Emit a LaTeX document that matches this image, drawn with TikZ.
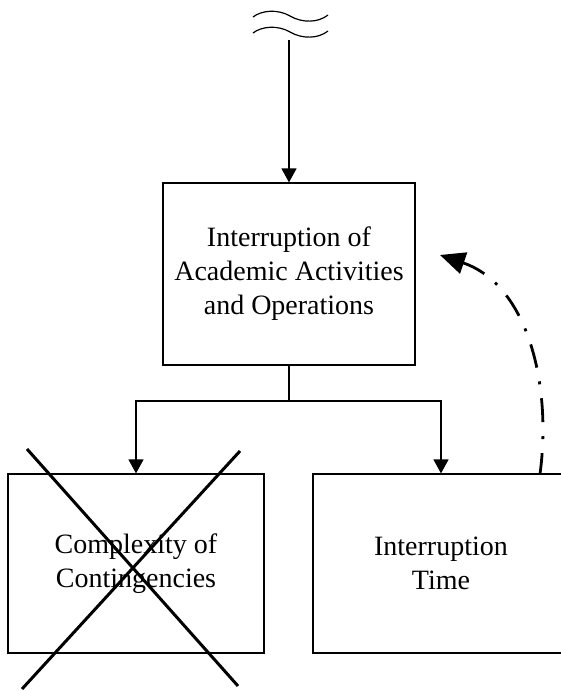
\documentclass[tikz,border=0pt]{standalone}
\usepackage{fontspec}
\setmainfont{Liberation Serif}
\usetikzlibrary{arrows.meta}
\tikzset{
  box/.style={draw, line width=0.6pt, inner sep=0pt, align=center,
    font=\fontsize{14}{17}\selectfont},
  arr/.style={line width=0.6pt, -{Triangle[length=7pt,width=7.5pt]}},
  link/.style={line width=0.6pt},
  cross/.style={line width=1.5pt},
  wave/.style={line width=0.6pt},
  dd/.style={line width=1.4pt, dash pattern=on 12pt off 7pt on 1.5pt off 7pt,
    {Triangle[length=12.5pt,width=11pt]}-}
}
\begin{document}
\begin{tikzpicture}[x=0.5pt,y=-0.5pt]
\useasboundingbox (0,0) rectangle (561,691);
\clip (0,0) rectangle (561,691);
% nodes
\node[box, minimum width=126pt, minimum height=91pt] (main) at (289,274)
  {Interruption of\\Academic Activities\\and Operations};
\node[box, minimum width=128pt, minimum height=89.5pt] (left) at (136,563.5)
  {Complexity of\\Contingencies};
\node[box, minimum width=128pt, minimum height=89.5pt] (right) at (441,563.5)
  {Interruption\\Time};
% wave symbol
\draw[wave] (253,17) .. controls (262,10) and (278,9) .. (290,16)
  .. controls (302,23) and (318,23) .. (328,15);
\draw[wave] (253,33) .. controls (262,26) and (278,25) .. (290,32)
  .. controls (302,39) and (318,39) .. (328,31);
% connectors
\coordinate (src) at (289,40);
\coordinate (split) at (289,401);
\draw[arr] (src) -- (main.north);
\draw[link] (main.south) -- (split);
\draw[arr] (split) -| (left.north);
\draw[arr] (split) -| (right.north);
% cross over left box
\coordinate (xa) at (27,449);
\coordinate (xb) at (238,686);
\coordinate (xc) at (22,689);
\coordinate (xd) at (240,451);
\draw[cross] (xa) -- (xb);
\draw[cross] (xc) -- (xd);
% dash-dot feedback arrow
\coordinate (fbtip) at (440,255);
\coordinate (fbstart) at (540,474);
\draw[dd] (fbtip) .. controls (528,285) and (552,385) .. (fbstart);
\end{tikzpicture}
\end{document}
